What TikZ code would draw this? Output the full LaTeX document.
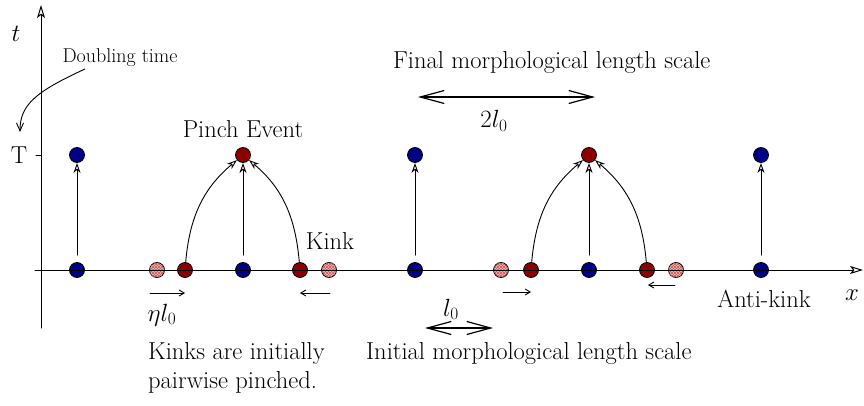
\documentclass[tikz,border=0pt]{standalone}
\usepackage{tikz}
\usetikzlibrary{arrows.meta,patterns}
\definecolor{antiblue}{RGB}{0,0,135}
\definecolor{kinkred}{RGB}{140,0,0}
\definecolor{ghostpink}{RGB}{245,185,185}
\definecolor{hatchred}{RGB}{200,90,90}

\begin{document}
\begin{tikzpicture}[x=1pt,y=1pt,line cap=round,line join=round,
  dot/.style={circle,draw,line width=0.8pt,minimum size=15pt,inner sep=0pt},
  anti/.style={dot,fill=antiblue},
  kink/.style={dot,fill=kinkred},
  ghost/.style={dot,preaction={fill=ghostpink},pattern=north east lines,pattern color=hatchred,postaction={pattern=north west lines,pattern color=hatchred}},
  axis/.style={-{Stealth[open,length=13pt,width=8pt,inset=3pt]},line width=1pt},
  rise/.style={-{Stealth[open,length=10pt,width=7pt,inset=3pt]},line width=0.9pt},
  drift/.style={-{Straight Barb[length=5pt,width=6pt]},line width=0.9pt},
  scalebar/.style={{Straight Barb[length=24pt,width=13pt]}-{Straight Barb[length=24pt,width=13pt]},line width=1.2pt},
  lab/.style={anchor=base,inner sep=0pt,font=\fontsize{24.5}{29}\selectfont}]
\useasboundingbox (0,0) rectangle (864,405);
% positions on the line
\node[anti] (a1) at (77,135) {};
\node[ghost] (g1) at (157,135) {};
\node[kink] (k1) at (185,135) {};
\node[anti] (a2) at (243,135) {};
\node[kink] (k2) at (300,135) {};
\node[ghost] (g2) at (329,135) {};
\node[anti] (a3) at (415,135) {};
\node[ghost] (g3) at (501,135) {};
\node[kink] (k3) at (531,135) {};
\node[anti] (a4) at (589,135) {};
\node[kink] (k4) at (647,135) {};
\node[ghost] (g4) at (676,135) {};
\node[anti] (a5) at (761,135) {};
% positions at T
\node[anti] (ta1) at (77,250) {};
\node[kink] (tp1) at (243,250) {};
\node[anti] (ta2) at (415,250) {};
\node[kink] (tp2) at (589,250) {};
\node[anti] (ta3) at (761,250) {};
% axes
\coordinate (xs) at (35,135);
\coordinate (xe) at (863,135);
\coordinate (ys) at (41,77);
\coordinate (ye) at (41,400);
\coordinate (tickT) at (41,250);
\draw[axis] (xs) -- (xe);
\draw[axis] (ys) -- (ye);
\draw[line width=1pt] (tickT) -- ++(-5,0);
\node[lab] (tlab) at (16,363) {$t$};
\node[lab] (xlab) at (852,105) {$x$};
\node[lab] (Tlab) at (19,242) {T};
% growth to T
\draw[rise,shorten <=7pt] (a1) -- (ta1);
\draw[rise,shorten <=7pt] (a2) -- (tp1);
\draw[rise,shorten <=7pt] (a3) -- (ta2);
\draw[rise,shorten <=7pt] (a4) -- (tp2);
\draw[rise,shorten <=7pt] (a5) -- (ta3);
\draw[rise] (k1) to[out=85,in=-140] (tp1);
\draw[rise] (k2) to[out=95,in=-40] (tp1);
\draw[rise] (k3) to[out=85,in=-140] (tp2);
\draw[rise] (k4) to[out=95,in=-40] (tp2);
% kinks moving in
\coordinate (d1s) at (150,112);
\coordinate (d1e) at (185,112);
\coordinate (d2s) at (330,112);
\coordinate (d2e) at (300,112);
\coordinate (d3s) at (503,113);
\coordinate (d3e) at (531,113);
\coordinate (d4s) at (675,120);
\coordinate (d4e) at (648,120);
\draw[drift] (d1s) -- (d1e);
\draw[drift] (d2s) -- (d2e);
\draw[drift] (d3s) -- (d3e);
\draw[drift] (d4s) -- (d4e);
% length scales
\coordinate (fl) at (418,308);
\coordinate (fr) at (595,308);
\coordinate (il) at (425,77);
\coordinate (ir) at (493,77);
\draw[scalebar] (fl) -- (fr);
\draw[scalebar] (il) -- (ir);
\node[lab,anchor=base west] (final) at (393,336) {Final morphological length scale};
\node[lab] (twol) at (494,277) {$2l_0$};
\node[lab] (lnot) at (451,89) {$l_0$};
\node[lab,anchor=base west] (initial) at (366,46) {Initial morphological length scale};
\node[lab] (etal) at (162,84) {$\eta l_0$};
\node[lab,anchor=north west,align=left] (pairs) at (148,63) {Kinks are initially\\pairwise pinched.};
% labels
\node[lab] (pinch) at (243,268) {Pinch Event};
\node[lab] (kinklab) at (330,156) {Kink};
\node[lab] (antilab) at (764,98) {Anti-kink};
\node[lab,font=\fontsize{20}{24}\selectfont] (dbl) at (120,342) {Doubling time};
\coordinate (dbs) at (85,336);
\coordinate (dbe) at (20,273);
\draw[-{Straight Barb[length=8pt,width=7pt]},line width=0.9pt] (dbs) .. controls (35,313) and (20,300) .. (dbe);
\end{tikzpicture}
\end{document}
